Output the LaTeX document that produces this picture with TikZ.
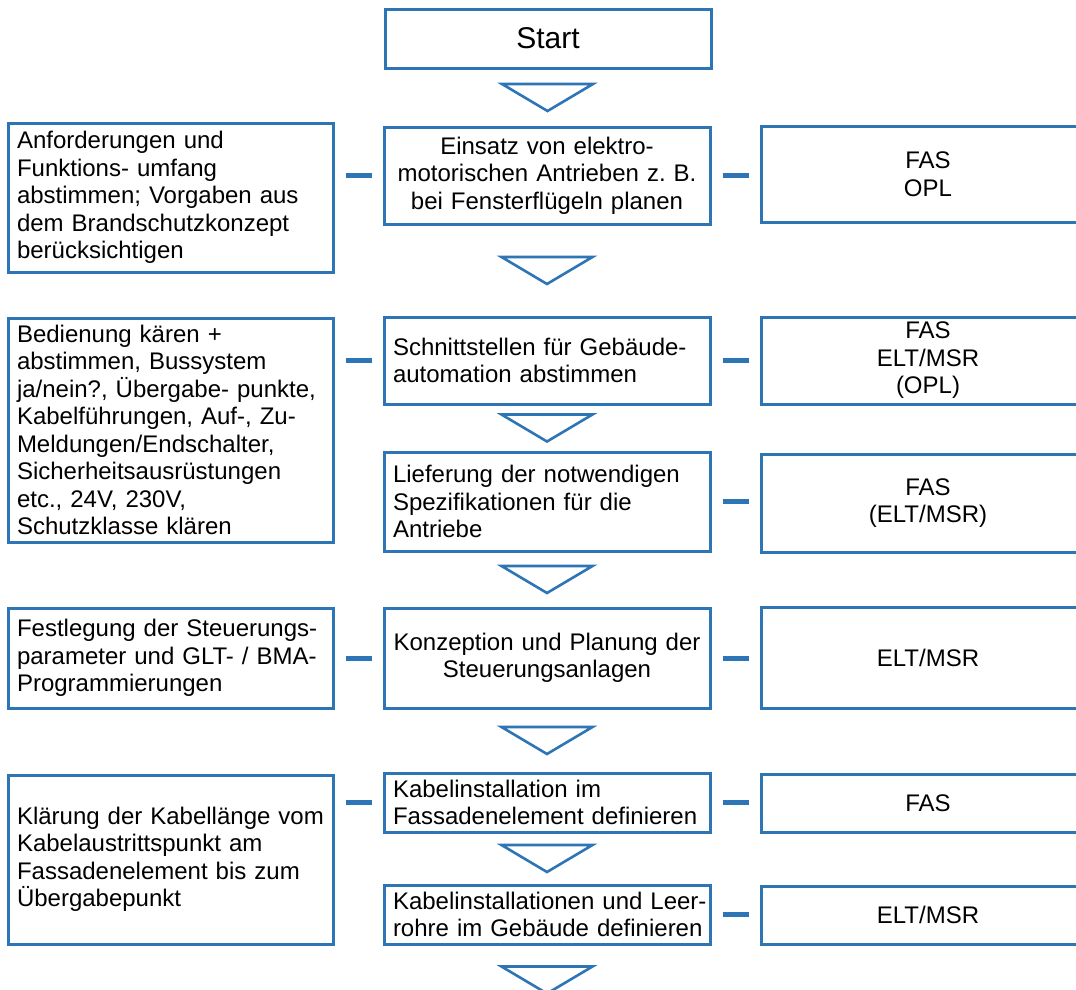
\documentclass[tikz,border=0pt]{standalone}
\usepackage{fontspec}
\setmainfont{Liberation Sans}
\usetikzlibrary{calc}
\definecolor{fblue}{HTML}{2E75B6}
\frenchspacing
\newcommand\flowtri[1]{\draw[tri] ($(#1)+(-45.5,-13.5)$) -- ($(#1)+(45.5,-13.5)$) -- ($(#1)+(0,13.5)$) -- cycle;}
\begin{document}
\begin{tikzpicture}[x=1pt,y=-1pt,
  box/.style={draw=fblue, line width=3pt, inner xsep=9pt, inner ysep=0pt, font=\fontsize{24}{27.5}\selectfont\frenchspacing, text=black},
  lbox/.style={box, text width=307pt, align=left},
  mbox/.style={box, text width=308pt, align=left},
  cbox/.style={box, text width=308pt, align=center},
  rbox/.style={box, text width=316pt, align=center},
  link/.style={draw=fblue, line width=5pt, shorten <=11pt, shorten >=11pt},
  tri/.style={draw=fblue, line width=2.6pt, line join=miter}]
\clip (0,0) rectangle (1076,989);
\fill[white] (0,0) rectangle (1076,989);

% start
\node[cbox, minimum height=59pt, font=\fontsize{30}{34}\selectfont] (start) at (548,38.5) {Start};

% row 1
\node[lbox, minimum height=149pt] (L1) at (170.5,197.5) {Anforderungen und\\Funktions- umfang\\abstimmen; Vorgaben aus\\dem Brandschutzkonzept\\berücksichtigen};
\node[cbox, minimum height=97pt] (M1) at (547,175.5) {Einsatz von elektro-\\motorischen Antrieben z. B.\\bei Fensterflügeln planen};
\node[rbox, minimum height=96pt] (R1) at (928,174) {FAS\\OPL};

% row 2
\node[lbox, minimum height=224pt] (L2) at (170.5,430) {Bedienung kären +\\abstimmen, Bussystem\\ja/nein?, Übergabe- punkte,\\Kabelführungen, Auf-, Zu-\\Meldungen/Endschalter,\\Sicherheitsausrüstungen\\etc., 24V, 230V,\\Schutzklasse klären};
\node[mbox, minimum height=87pt] (M2) at (547,360.5) {Schnittstellen für Gebäude-\\automation abstimmen};
\node[rbox, minimum height=87pt] (R2) at (928,360.5) {FAS\\ELT/MSR\\(OPL)};
\node[mbox, minimum height=99pt] (M3) at (547,501.5) {Lieferung der notwendigen\\Spezifikationen für die\\Antriebe};
\node[rbox, minimum height=98pt] (R3) at (928,503) {FAS\\(ELT/MSR)};

% row 3
\node[lbox, minimum height=100pt] (L4) at (170.5,658) {\mbox{Festlegung der Steuerungs-}\\\mbox{parameter und GLT- / BMA-}\\Programmierungen};
\node[cbox, minimum height=100pt] (M4) at (547,658) {Konzeption und Planung der\\Steuerungsanlagen};
\node[rbox, minimum height=101pt] (R4) at (928,657.5) {ELT/MSR};

% row 4
\node[lbox, minimum height=169pt] (L5) at (170.5,859.5) {Klärung der Kabellänge vom\\Kabelaustrittspunkt am\\Fassadenelement bis zum\\Übergabepunkt};
\node[mbox, minimum height=59pt] (M5a) at (547,802.5) {Kabelinstallation im\\\mbox{Fassadenelement definieren}};
\node[rbox, minimum height=58pt] (R5a) at (928,803) {FAS};
\node[mbox, minimum height=59pt] (M5b) at (547,914.5) {\mbox{Kabelinstallationen und Leer-}\\\mbox{rohre im Gebäude definieren}};
\node[rbox, minimum height=58pt] (R5b) at (928,915) {ELT/MSR};

% dashes
\draw[link] (L1.east |- M1.west) -- (M1.west);
\draw[link] (M1.east) -- (R1.west |- M1.east);
\draw[link] (L2.east |- M2.west) -- (M2.west);
\draw[link] (M2.east) -- (R2.west |- M2.east);
\draw[link] (M3.east) -- (R3.west |- M3.east);
\draw[link] (L4.east |- M4.west) -- (M4.west);
\draw[link] (M4.east) -- (R4.west |- M4.east);
\draw[link] (L5.east |- M5a.west) -- (M5a.west);
\draw[link] (M5a.east) -- (R5a.west |- M5a.east);
\draw[link] (M5b.east) -- (R5b.west |- M5b.east);

% triangles
\coordinate (t1) at ($(start.south)!0.5!(M1.north)$);
\coordinate (t2) at ($(M1.south)!0.5!(M2.north)$);
\coordinate (t3) at ($(M2.south)!0.5!(M3.north)$);
\coordinate (t4) at ($(M3.south)!0.5!(M4.north)$);
\coordinate (t5) at ($(M4.south)!0.5!(M5a.north)$);
\coordinate (t6) at ($(M5a.south)!0.5!(M5b.north)$);
\coordinate (t7) at ($(M5b.south)+(0,34.5)$);
\flowtri{t1}
\flowtri{t2}
\flowtri{t3}
\flowtri{t4}
\flowtri{t5}
\flowtri{t6}
\flowtri{t7}
\end{tikzpicture}
\end{document}
